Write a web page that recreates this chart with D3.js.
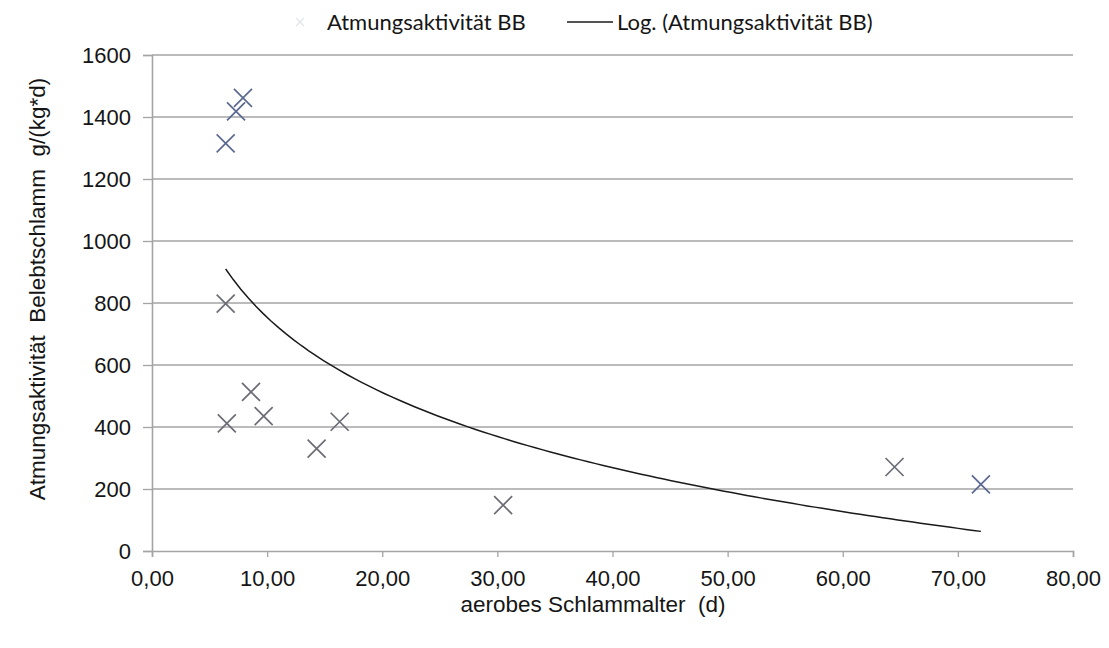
<!DOCTYPE html>
<html>
<head>
<meta charset="utf-8">
<script src="https://cdn.jsdelivr.net/npm/d3@7/dist/d3.min.js"></script>
<style>
  html, body { margin: 0; padding: 0; background: #fff; }
  svg text { font-family: "Liberation Sans", Arial, sans-serif; fill: #151515; }
  .legend text { font-family: Lato, "Open Sans", sans-serif; }
</style>
</head>
<body>
<svg id="chart" width="1109" height="648"></svg>
<script>
// Sludge age (days) and respiration activity of the activated sludge
const sludgeAge = [6.4, 7.3, 7.9, 6.4, 6.5, 8.6, 9.7, 14.3, 16.3, 30.5, 64.5, 72.0];
const activity  = [1315, 1418, 1462, 798, 412, 513, 435, 330, 417, 148, 271, 215];

const xTicks = [0, 10, 20, 30, 40, 50, 60, 70, 80];
const yTicks = [0, 200, 400, 600, 800, 1000, 1200, 1400, 1600];

const seriesName = "Atmungsaktivität BB";
const trendName = "Log. (Atmungsaktivität BB)";
const xTitle = "aerobes Schlammalter  (d)";
const yTitle = "Atmungsaktivität  Belebtschlamm  g/(kg*d)";

const svg = d3.select("#chart");
const margin = { left: 152, right: 36, top: 55, bottom: 97 };
const W = 1109, H = 648;

const x = d3.scaleLinear().domain([0, 80]).range([margin.left, W - margin.right]);
const y = d3.scaleLinear().domain([0, 1600]).range([H - margin.bottom, margin.top]);

const fmt = d => d.toFixed(2).replace(".", ",");
const axisColor = "#a4a4a4";

// horizontal gridlines
svg.append("g")
  .selectAll("line")
  .data(yTicks.filter(d => d > 0))
  .join("line")
  .attr("x1", x(0)).attr("x2", x(80))
  .attr("y1", d => y(d)).attr("y2", d => y(d))
  .attr("stroke", axisColor).attr("stroke-width", 1.6);

// x axis
const xAxis = svg.append("g")
  .attr("transform", `translate(0,${y(0)})`)
  .call(d3.axisBottom(x).tickValues(xTicks).tickFormat(fmt).tickSize(6).tickPadding(13));
xAxis.select(".domain").attr("stroke", axisColor).attr("stroke-width", 1.6);
xAxis.selectAll(".tick line").attr("stroke", axisColor).attr("stroke-width", 1.3);
xAxis.selectAll("text").style("font-size", "22px").attr("fill", "#151515");

// y axis
const yAxis = svg.append("g")
  .attr("transform", `translate(${x(0)},0)`)
  .call(d3.axisLeft(y).tickValues(yTicks).tickFormat(d3.format("d")).tickSize(9).tickPadding(12));
yAxis.select(".domain").attr("stroke", axisColor).attr("stroke-width", 1.6);
yAxis.selectAll(".tick line").attr("stroke", axisColor).attr("stroke-width", 1.3);
yAxis.selectAll("text").style("font-size", "22px").attr("fill", "#151515");

// logarithmic least-squares trendline: y = a*ln(x) + b
const lx = sludgeAge.map(Math.log);
const mx = d3.mean(lx), my = d3.mean(activity);
const a = d3.sum(lx, (v, i) => (v - mx) * (activity[i] - my)) / d3.sum(lx, v => (v - mx) ** 2);
const b = my - a * mx;
const [xMin, xMax] = d3.extent(sludgeAge);
const trendPts = d3.range(0, 101).map(i => {
  const xv = xMin + (xMax - xMin) * i / 100;
  return [xv, a * Math.log(xv) + b];
});
svg.append("path")
  .datum(trendPts)
  .attr("fill", "none")
  .attr("stroke", "#1a1a1a")
  .attr("stroke-width", 1.5)
  .attr("d", d3.line().x(d => x(d[0])).y(d => y(d[1])));

// cross markers
const s = 9;
const pts = sludgeAge.map((v, i) => [v, activity[i]]);
const marks = svg.append("g").selectAll("g").data(pts).join("g")
  .attr("transform", d => `translate(${x(d[0])},${y(d[1])})`);
marks.append("path")
  .attr("d", `M${-s},${-s}L${s},${s}M${-s},${s}L${s},${-s}`)
  .attr("stroke", (d, i) => (i < 3 || i === 11) ? "#5b6890" : "#6c6c76")
  .attr("stroke-width", 1.7)
  .attr("fill", "none");

// axis titles
svg.append("text")
  .attr("x", 593).attr("y", 612)
  .attr("text-anchor", "middle")
  .style("font-size", "22.5px").style("white-space", "pre")
  .text(xTitle);
svg.append("text")
  .attr("transform", "translate(45,289) rotate(-90)")
  .attr("text-anchor", "middle")
  .style("font-size", "22.5px").style("white-space", "pre")
  .text(yTitle);

// legend
const lg = svg.append("g").attr("class", "legend");
lg.append("path")
  .attr("d", "M296,18L304,26M296,26L304,18")
  .attr("stroke", "#e2e4ea").attr("stroke-width", 1.2);
lg.append("text").attr("x", 327).attr("y", 30).style("font-size", "22px").text(seriesName);
lg.append("line").attr("x1", 567).attr("x2", 613).attr("y1", 22).attr("y2", 22)
  .attr("stroke", "#1a1a1a").attr("stroke-width", 1.5);
lg.append("text").attr("x", 617).attr("y", 30).style("font-size", "22px").text(trendName);
</script>
</body>
</html>
